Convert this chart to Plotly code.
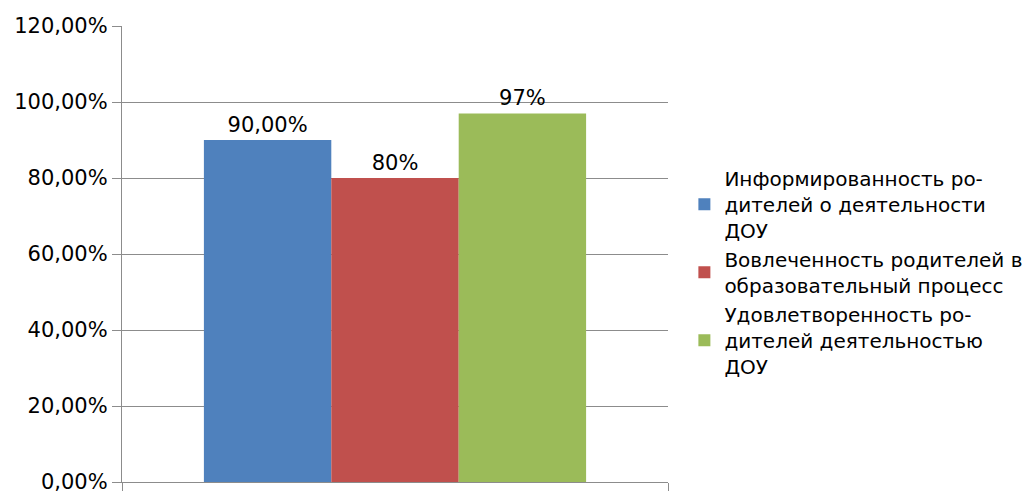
import plotly.graph_objects as go

series_names = [
    "Информированность ро-<br>дителей о деятельности<br>ДОУ",
    "Вовлеченность родителей в<br>образовательный процесс",
    "Удовлетворенность ро-<br>дителей деятельностью<br>ДОУ",
]
values = [0.90, 0.80, 0.97]
value_labels = ["90,00%", "80%", "97%"]
colors = ["#4F81BD", "#C0504D", "#9BBB59"]
category = [""]
y_ticks = [0, 0.2, 0.4, 0.6, 0.8, 1.0, 1.2]

font_family = "DejaVu Sans"

fig = go.Figure()
for name, v, lab, c in zip(series_names, values, value_labels, colors):
    fig.add_trace(go.Bar(
        x=category, y=[v], name=name, marker_color=c, marker_line_width=0,
        text=[lab], textposition="outside", cliponaxis=False,
        textfont=dict(size=21, color="#000000", family=font_family),
    ))

fig.update_layout(
    width=1024, height=483,
    margin=dict(l=114, r=364, t=18, b=9, autoexpand=False),
    paper_bgcolor="white", plot_bgcolor="white",
    barmode="group", bargap=0.3, bargroupgap=0,
    separators=", ",
    font=dict(family=font_family, size=21, color="#000000"),
    showlegend=True,
    legend=dict(
        x=1.03, xanchor="left", y=0.46, yanchor="middle",
        font=dict(size=20, family=font_family, color="#000000"),
        tracegroupgap=2, itemwidth=30,
    ),
)
fig.update_yaxes(
    range=[0, 1.2], tickvals=y_ticks, tickformat=".2%",
    showgrid=True, gridcolor="#8c8c8c", gridwidth=1.3,
    showline=True, linecolor="#8c8c8c", linewidth=1.3,
    ticks="outside", ticklen=9, tickcolor="#8c8c8c",
    tickfont=dict(size=21, family=font_family),
    ticklabeloverflow="allow",
    zeroline=False, automargin=False,
)
fig.update_xaxes(
    showline=True, linecolor="#8c8c8c", linewidth=1.3,
    ticks="outside", ticklen=9, tickcolor="#8c8c8c", tickson="boundaries",
    showticklabels=False, showgrid=False, automargin=False,
)

fig.write_html("out.html")
